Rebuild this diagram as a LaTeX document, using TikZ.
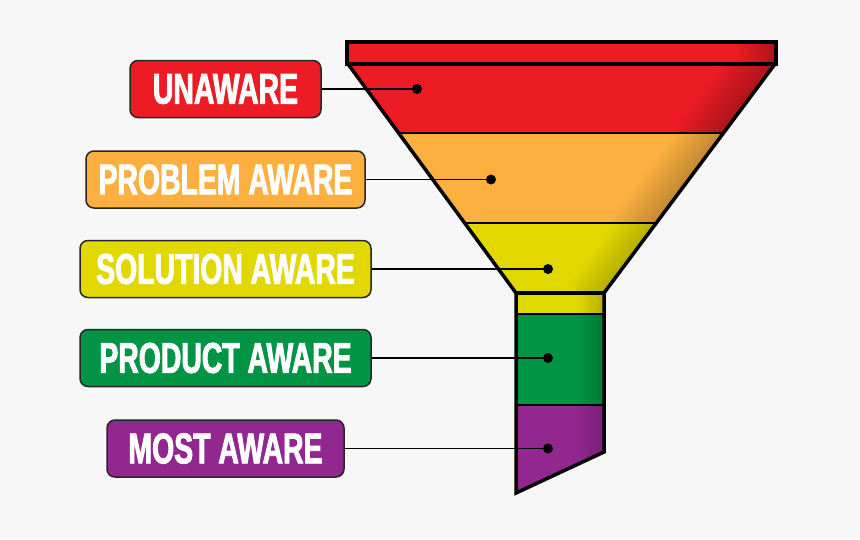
\documentclass[tikz,border=0pt]{standalone}
\usepackage{fontspec}
\newfontfamily\labelfont{Liberation Sans}[FakeStretch=0.66, FakeBold=2]
\definecolor{bgGray}{HTML}{F7F7F7}
\definecolor{unRed}{HTML}{ED1C24}
\definecolor{probOrange}{HTML}{FBB040}
\definecolor{solYellow}{HTML}{E1D800}
\definecolor{prodGreen}{HTML}{009444}
\definecolor{mostPurple}{HTML}{92278F}
\tikzset{
  stagebox/.style={draw=black!85, line width=1.5pt, rounded corners=8pt,
    text=white, font=\labelfont\bfseries\fontsize{43pt}{43pt}\selectfont,
    minimum height=57pt, inner sep=0pt},
  dot/.style={circle, fill=black, inner sep=0pt, minimum size=10pt},
  link/.style={line width=1.8pt},
  divider/.style={line width=1.6pt},
  rim/.style={line width=3.5pt},
}
\begin{document}
\begin{tikzpicture}[x=1pt, y=-1pt]
\useasboundingbox (0,0) rectangle (860,539);
\fill[bgGray] (0,0) rectangle (860,539);

% cone bands
\begin{scope}
\clip (348,64) -- (775,64) -- (723.5,133) -- (398.6,133) -- cycle;
\fill[unRed] (340,60) rectangle (780,140);
\shade[left color=unRed, right color=unRed!70!black, transform canvas={shift={(775,64)}, rotate=-36.7}] (-45,-30) rectangle (4,300);
\end{scope}
\begin{scope}
\clip (398.6,133) -- (723.5,133) -- (656,223) -- (464.7,223) -- cycle;
\fill[probOrange] (390,130) rectangle (730,230);
\shade[left color=probOrange, right color=probOrange!75!black, transform canvas={shift={(775,64)}, rotate=-36.7}] (-40,-30) rectangle (4,300);
\end{scope}
\begin{scope}
\clip (464.7,223) -- (656,223) -- (604,293) -- (516,293) -- cycle;
\fill[solYellow] (460,220) rectangle (660,300);
\shade[left color=solYellow, right color=solYellow!78!black, transform canvas={shift={(775,64)}, rotate=-36.7}] (-35,-30) rectangle (4,300);
\end{scope}

% stem
\fill[solYellow] (516,293) rectangle (604,314);
\shade[left color=solYellow, right color=solYellow!80!black] (578,293) rectangle (604,314);
\fill[prodGreen] (516,314) rectangle (604,405);
\shade[left color=prodGreen, right color=prodGreen!80!black] (578,314) rectangle (604,405);
\begin{scope}
\clip (516,405) -- (604,405) -- (604,452) -- (516,493) -- cycle;
\fill[mostPurple] (510,400) rectangle (610,500);
\shade[left color=mostPurple, right color=mostPurple!80!black] (578,400) rectangle (604,500);
\end{scope}

% rim
\fill[unRed] (347,42) rectangle (776,64);
\shade[left color=unRed, right color=unRed!72!black] (735,42) rectangle (776,64);

\draw[divider] (398.6,133) -- (723.5,133);
\draw[divider] (464.7,223) -- (656,223);
\draw[divider] (516,314) -- (604,314);
\draw[divider] (516,405) -- (604,405);

\draw[rim] (347,42) rectangle (776,64);
\draw[rim] (348,64) -- (516,293) -- (516,493) -- (604,452) -- (604,293) -- (775,64);
\draw[rim] (516,293) -- (604,293);

% labels
\node[stagebox, fill=unRed, minimum width=191pt] (unaware) at (225.5,89) {UNAWARE};
\node[stagebox, fill=probOrange, minimum width=279pt] (problem) at (225.5,179.5) {PROBLEM AWARE};
\node[stagebox, fill=solYellow, minimum width=291pt] (solution) at (225.5,269) {SOLUTION AWARE};
\node[stagebox, fill=prodGreen, minimum width=291pt] (product) at (225.5,358) {PRODUCT AWARE};
\node[stagebox, fill=mostPurple, minimum width=237pt] (most) at (225.5,448.5) {MOST AWARE};

\node[dot] (unDot) at (417,89) {};
\node[dot] (probDot) at (491,179.5) {};
\node[dot] (solDot) at (548,269) {};
\node[dot] (prodDot) at (548,358) {};
\node[dot] (mostDot) at (548,448.5) {};

\draw[link] (unaware) -- (unDot);
\draw[link] (problem) -- (probDot);
\draw[link] (solution) -- (solDot);
\draw[link] (product) -- (prodDot);
\draw[link] (most) -- (mostDot);
\end{tikzpicture}
\end{document}
